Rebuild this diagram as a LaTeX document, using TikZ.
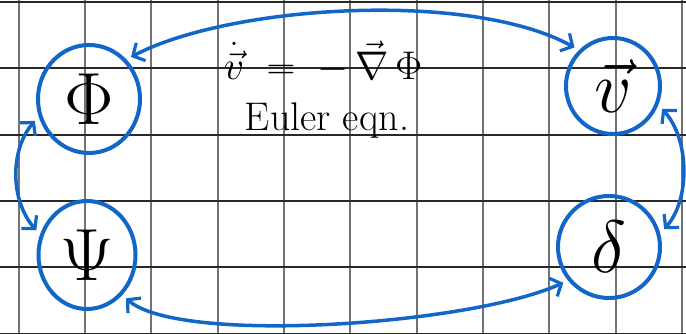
\RequirePackage{fix-cm}
\documentclass[tikz,border=0pt]{standalone}
\usepackage{fontspec}
\usetikzlibrary{arrows.meta,shapes.geometric}
\definecolor{handblue}{RGB}{18,102,200}
\definecolor{gridv}{RGB}{115,115,115}
\definecolor{gridh}{RGB}{40,40,40}
\tikzset{
  bubble/.style={draw=handblue, line width=4pt, ellipse, inner sep=0pt, outer sep=7pt, font=\fontsize{74}{84}\selectfont},
  arr/.style={draw=handblue, line width=3.5pt, line cap=round, {Straight Barb[length=9pt,width=20pt,line width=3.2pt]}-{Straight Barb[length=9pt,width=20pt,line width=3.2pt]}},
  label/.style={font=\fontsize{40}{48}\selectfont, anchor=base, inner sep=0pt},
}
\begin{document}
\begin{tikzpicture}[x=1pt,y=-1pt]
\useasboundingbox (0,0) rectangle (686,334);
\fill[white] (0,0) rectangle (686,334);
% grid
\foreach \i in {0,...,10} {
  \draw[gridv, line width=2pt] ({18.5+66.35*\i},0) -- ({18.5+66.35*\i},334);
}
\foreach \j in {0,...,5} {
  \draw[gridh, line width=2pt] (0,{2+66.3*\j}) -- (686,{2+66.3*\j});
}
% nodes
\node[bubble, minimum width=102pt, minimum height=108pt] (phi) at (89,99) {$\Phi$};
\node[bubble, minimum width=94pt, minimum height=96pt] (v) at (613,86) {$\vec v$};
\node[bubble, minimum width=97pt, minimum height=108pt] (psi) at (87,255) {$\Psi$};
\node[bubble, minimum width=102pt, minimum height=102pt] (delta) at (609,247) {$\delta$};
% text
\node[label] (eq) at (323,80) {$\dot{\vec v}\;=\;-\,\vec\nabla\,\Phi$};
\node[label] (euler) at (327,131) {Euler eqn.};
% connectors
\draw[arr] (phi.45) .. controls (230,5) and (470,-10) .. (v.135);
\draw[arr] (phi.202) .. controls (10,150) and (10,200) .. (psi.154);
\draw[arr] (v.335) .. controls (690,140) and (690,200) .. (delta.18);
\draw[arr] (psi.312) .. controls (180,345) and (470,325) .. (delta.218);
\end{tikzpicture}
\end{document}
